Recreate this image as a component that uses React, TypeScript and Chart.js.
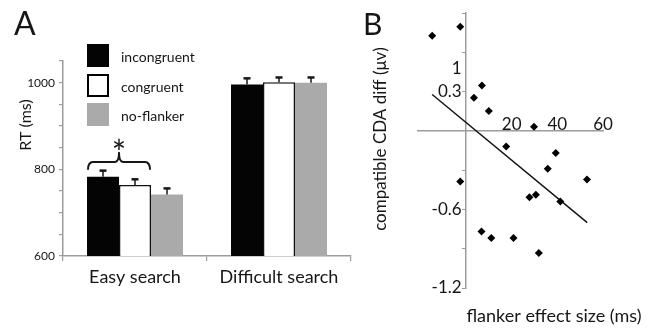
import React, { useEffect, useRef } from 'react';
import { Chart, registerables } from 'chart.js';

Chart.register(...registerables);

// ---------- Panel A data ----------
const categories = ['Easy search', 'Difficult search'];
const seriesNames = ['incongruent', 'congruent', 'no-flanker'];
const incongruentRT = [783, 996];
const congruentRT = [764, 1001];
const noFlankerRT = [742, 1000];
const incongruentErr = [14, 14];
const congruentErr = [13, 11];
const noFlankerErr = [14, 12];
const rtTickLabels = [600, 800, 1000];
// significance bracket (RT values)
const bracketTips = 799;
const bracketTop = 817;
const bracketPeak = 838;
const starLevel = 860;

// ---------- Panel B data ----------
const flankerEffect = [-14.8, -2.5, 7.0, 3.5, 10.0, 29.8, 17.6, 39.3, 35.8, 53.0, -2.5, 27.8, 30.6, 41.3, 6.8, 11.1, 20.8, 31.9];
const cdaDiff = [0.727, 0.797, 0.347, 0.253, 0.152, 0.033, -0.119, -0.169, -0.289, -0.37, -0.387, -0.506, -0.488, -0.539, -0.769, -0.818, -0.818, -0.932];
const fitLineX = [-14.8, 53.1];
const fitLineY = [0.279, -0.701];
const xTickValues = [20, 40, 60];
const yTickValues = [-1.2, -0.9, -0.6, -0.3, 0, 0.3, 0.48, 0.6, 0.9];
const yTickLabels = ['-1.2', '', '-0.6', '', '', '0.3', '1', '', ''];

const FONT = 'Lato, "Open Sans", sans-serif';
const INK = '#161616';
const AXIS = '#9c9c9c';

function PanelA() {
  const ref = useRef<HTMLCanvasElement>(null);
  useEffect(() => {
    if (!ref.current) return;
    const errs = [incongruentErr, congruentErr, noFlankerErr];
    const overlay = {
      id: 'panelAOverlay',
      afterDatasetsDraw(chart: any) {
        const ctx = chart.ctx;
        const ys = chart.scales.y;
        ctx.save();
        ctx.strokeStyle = INK;
        errs.forEach((e, di) => {
          const meta = chart.getDatasetMeta(di);
          meta.data.forEach((bar: any, j: number) => {
            const v = chart.data.datasets[di].data[j] as number;
            const y0 = ys.getPixelForValue(v);
            const y1 = ys.getPixelForValue(v + e[j]);
            ctx.lineWidth = 1.5;
            ctx.beginPath();
            ctx.moveTo(bar.x, y0);
            ctx.lineTo(bar.x, y1);
            ctx.stroke();
            ctx.lineWidth = 2.5;
            ctx.beginPath();
            ctx.moveTo(bar.x - 3.5, y1);
            ctx.lineTo(bar.x + 3.5, y1);
            ctx.stroke();
          });
        });
        // bracket over easy-search incongruent vs congruent
        const b0: any = chart.getDatasetMeta(0).data[0];
        const b1: any = chart.getDatasetMeta(1).data[0];
        const xl = b0.x - b0.width / 2 + 1;
        const xr = b1.x + b1.width / 2 - 1;
        const xm = (xl + xr) / 2;
        const yb = ys.getPixelForValue(bracketTips);
        const yt = ys.getPixelForValue(bracketTop);
        const yp = ys.getPixelForValue(bracketPeak);
        ctx.lineWidth = 2;
        ctx.lineJoin = 'round';
        ctx.beginPath();
        ctx.moveTo(xl, yb);
        ctx.quadraticCurveTo(xl, yt, xl + 5, yt);
        ctx.lineTo(xm - 4, yt);
        ctx.quadraticCurveTo(xm, yt, xm, yp);
        ctx.quadraticCurveTo(xm, yt, xm + 4, yt);
        ctx.lineTo(xr - 5, yt);
        ctx.quadraticCurveTo(xr, yt, xr, yb);
        ctx.stroke();
        ctx.fillStyle = INK;
        ctx.font = `34px ${FONT}`;
        ctx.textAlign = 'center';
        ctx.textBaseline = 'middle';
        ctx.fillText('*', xm, ys.getPixelForValue(starLevel) + 11);
        ctx.restore();
      },
      afterDraw(chart: any) {
        const ctx = chart.ctx;
        ctx.save();
        ctx.fillStyle = INK;
        ctx.textAlign = 'left';
        ctx.textBaseline = 'alphabetic';
        ctx.font = `32px ${FONT}`;
        ctx.fillText('A', 14, 35);
        // y axis title
        ctx.save();
        ctx.translate(26, 125);
        ctx.rotate(-Math.PI / 2);
        ctx.textAlign = 'center';
        ctx.textBaseline = 'middle';
        ctx.font = `16px ${FONT}`;
        ctx.fillText('RT (ms)', 0, 0);
        ctx.restore();
        // legend
        const boxTops = [44, 74, 103];
        chart.data.datasets.forEach((ds: any, i: number) => {
          const y = boxTops[i];
          ctx.fillStyle = ds.backgroundColor;
          ctx.fillRect(87, y, 22, 23);
          if (ds.borderWidth) {
            ctx.strokeStyle = '#000';
            ctx.lineWidth = 2;
            ctx.strokeRect(88, y + 1, 20, 21);
          }
          ctx.fillStyle = INK;
          ctx.font = `14px ${FONT}`;
          ctx.textBaseline = 'middle';
          ctx.fillText(ds.label, 121, y + 13);
        });
        ctx.restore();
      },
    };
    const chart = new Chart(ref.current, {
      type: 'bar',
      data: {
        labels: categories,
        datasets: [
          { label: seriesNames[0], data: incongruentRT, backgroundColor: '#040404', borderWidth: 0 },
          { label: seriesNames[1], data: congruentRT, backgroundColor: '#ffffff', borderColor: '#111', borderWidth: 1.5, borderSkipped: 'bottom' },
          { label: seriesNames[2], data: noFlankerRT, backgroundColor: '#aaaaaa', borderWidth: 0 },
        ].map((d) => ({ ...d, barPercentage: 1, categoryPercentage: 96 / 144 })),
      },
      options: {
        animation: false,
        responsive: false,
        layout: { padding: { left: 0, top: 61, right: 4, bottom: 0 } },
        plugins: { legend: { display: false }, tooltip: { enabled: false } },
        scales: {
          x: {
            grid: { drawOnChartArea: false, offset: true, tickLength: 5, color: AXIS, lineWidth: 1.2 },
            border: { color: AXIS, width: 1.5 },
            ticks: { font: { family: FONT, size: 18 }, color: INK, padding: 5, maxRotation: 0 },
            afterFit: (s: any) => { s.height = 75; },
          },
          y: {
            min: 600,
            max: 1050,
            grid: { drawOnChartArea: false, tickLength: 4, color: AXIS, lineWidth: 1.2 },
            border: { color: AXIS, width: 1.5 },
            ticks: {
              stepSize: 50,
              autoSkip: false,
              padding: 4,
              color: INK,
              font: { family: FONT, size: 12 },
              callback: (v: any) => (rtTickLabels.includes(Number(v)) ? String(v) : ''),
            },
            afterFit: (s: any) => { s.width = 63; },
          },
        },
      },
      plugins: [overlay],
    } as any);
    return () => chart.destroy();
  }, []);
  return <canvas ref={ref} width={355} height={331} style={{ position: 'absolute', left: 0, top: 0, display: 'block' }} />;
}

function PanelB() {
  const ref = useRef<HTMLCanvasElement>(null);
  useEffect(() => {
    if (!ref.current) return;
    const overlay = {
      id: 'panelBOverlay',
      afterDraw(chart: any) {
        const ctx = chart.ctx;
        ctx.save();
        ctx.fillStyle = INK;
        ctx.textAlign = 'left';
        ctx.textBaseline = 'alphabetic';
        ctx.font = `30px ${FONT}`;
        ctx.fillText('B', 8, 35);
        ctx.save();
        ctx.translate(26, 139);
        ctx.rotate(-Math.PI / 2);
        ctx.textAlign = 'center';
        ctx.textBaseline = 'middle';
        ctx.font = `17px ${FONT}`;
        ctx.fillText('compatible CDA diff (\u03bcv)', 0, 0);
        ctx.restore();
        ctx.textAlign = 'center';
        ctx.textBaseline = 'middle';
        ctx.font = `18px ${FONT}`;
        ctx.fillText('flanker effect size (ms)', 199, 316);
        ctx.restore();
      },
    };
    const chart = new Chart(ref.current, {
      type: 'scatter',
      data: {
        datasets: [
          {
            label: 'participants',
            data: flankerEffect.map((x, i) => ({ x, y: cdaDiff[i] })),
            pointStyle: 'rectRot',
            pointRadius: 4,
            backgroundColor: '#000',
            borderColor: '#000',
            borderWidth: 0,
            showLine: false,
          },
          {
            label: 'fit',
            data: fitLineX.map((x, i) => ({ x, y: fitLineY[i] })),
            showLine: true,
            borderColor: '#151515',
            borderWidth: 1.5,
            pointRadius: 0,
          },
        ],
      },
      options: {
        animation: false,
        responsive: false,
        clip: false,
        layout: { padding: { left: 63, top: 10, right: 55, bottom: 43 } },
        plugins: { legend: { display: false }, tooltip: { enabled: false } },
        scales: {
          x: {
            type: 'linear',
            min: -21,
            max: 60,
            position: { y: 0 },
            afterBuildTicks: (s: any) => { s.ticks = xTickValues.map((v) => ({ value: v })); },
            grid: { drawOnChartArea: false, drawTicks: false },
            border: { color: AXIS, width: 1.5 },
            ticks: { autoSkip: false, maxRotation: 0, padding: -17, color: INK, font: { family: FONT, size: 17 } },
          },
          y: {
            type: 'linear',
            min: -1.2,
            max: 0.9,
            position: { x: 0 },
            afterBuildTicks: (s: any) => { s.ticks = yTickValues.map((v) => ({ value: v })); },
            grid: {
              drawOnChartArea: false,
              tickLength: 3,
              tickColor: (c: any) => (c.tick && c.tick.value === 0.48 ? 'rgba(0,0,0,0)' : AXIS),
            },
            border: { color: AXIS, width: 1.5 },
            ticks: {
              autoSkip: false,
              color: INK,
              font: { family: FONT, size: 17 },
              callback: (v: any) => {
                const i = yTickValues.indexOf(Number(v));
                return i >= 0 && yTickLabels[i] ? yTickLabels[i] + ' ' : '';
              },
            },
          },
        },
      },
      plugins: [overlay],
    } as any);
    return () => chart.destroy();
  }, []);
  return <canvas ref={ref} width={303} height={331} style={{ position: 'absolute', left: 355, top: 0, display: 'block' }} />;
}

export default function App() {
  return (
    <div style={{ position: 'fixed', left: 0, top: 0, width: 658, height: 331, background: '#fff', overflow: 'hidden' }}>
      <PanelA />
      <PanelB />
    </div>
  );
}
